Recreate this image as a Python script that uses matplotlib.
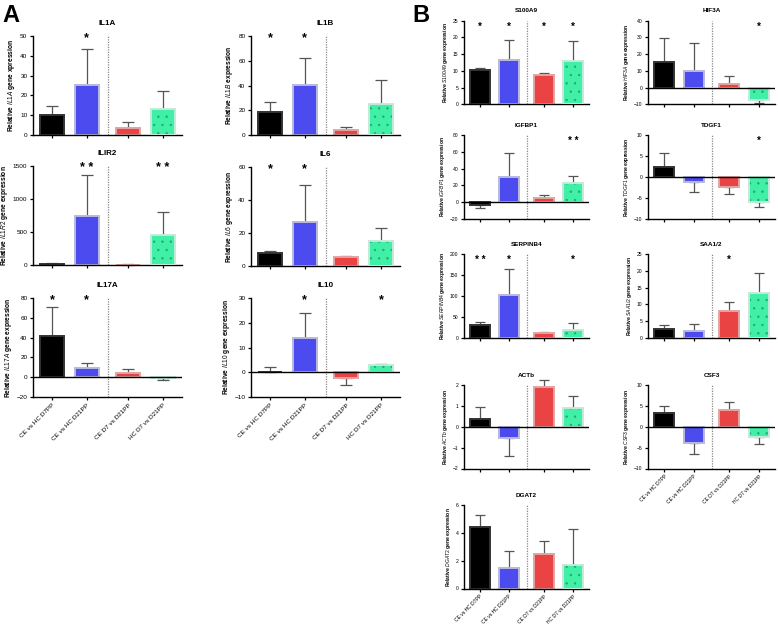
#!/usr/bin/env python3
"""Relative gene expression bar panels (A: cytokines, B: other genes)."""

import matplotlib
matplotlib.use('Agg')
import matplotlib.pyplot as plt

plt.rcParams['font.family'] = ['Liberation Sans', 'DejaVu Sans']
plt.rcParams['mathtext.fontset'] = 'custom'
plt.rcParams['mathtext.it'] = 'Liberation Sans:italic'
plt.rcParams['mathtext.rm'] = 'Liberation Sans'
plt.rcParams['hatch.linewidth'] = 0.5

GROUPS = ['CE vs HC D7PP', 'CE vs HC D21PP', 'CE D7 vs D21PP', 'HC D7 vs D21PP']

# means and error-bar lengths
IL1A_MEAN = [10, 25.3, 3.7, 13.1]
IL1A_SD = [4.5, 18, 3, 8.9]
IL1B_MEAN = [18.8, 40.4, 4.3, 25.3]
IL1B_SD = [7.6, 22.1, 2.2, 19.1]
IL1R2_MEAN = [20, 737, 5, 462]
IL1R2_SD = [8, 623, 4, 341]
IL6_MEAN = [7.6, 26.8, 5.2, 14.9]
IL6_SD = [1.7, 22, 0.6, 7.9]
IL17A_MEAN = [41.4, 9.7, 4, -1]
IL17A_SD = [29.5, 4.6, 4.3, 2]
IL10_MEAN = [0.3, 13.8, -2.4, 2.8]
IL10_SD = [1.7, 10.2, 2.9, 0.6]

S100A9_MEAN = [10.1, 13.2, 8.6, 13]
S100A9_SD = [0.8, 6.1, 0.8, 6]
HIF3A_MEAN = [15.4, 10, 2.2, -7.4]
HIF3A_SD = [14.1, 16.5, 4.8, 1.6]
IGFBP1_MEAN = [-3.6, 30.1, 5.1, 23]
IGFBP1_SD = [4, 28.2, 3.2, 8.7]
TDGF1_MEAN = [2.5, -1.2, -2.4, -5.9]
TDGF1_SD = [3.2, 2.3, 1.65, 1.2]
SERPINB4_MEAN = [31, 102.8, 11.2, 19.8]
SERPINB4_SD = [6.6, 62.8, 2.4, 15.2]
SAA12_MEAN = [2.6, 2, 8.1, 13.4]
SAA12_SD = [1.2, 2.2, 2.7, 5.9]
ACTB_MEAN = [0.35, -0.55, 1.9, 0.9]
ACTB_SD = [0.6, 0.85, 0.35, 0.55]
CSF3_MEAN = [3.3, -4, 4.1, -2.5]
CSF3_SD = [1.7, 2.5, 1.9, 1.7]
DGAT2_MEAN = [4.4, 1.5, 2.5, 1.66]
DGAT2_SD = [0.9, 1.2, 0.9, 2.64]

# significance marks above each bar
IL1A_SIG = ['', '*', '', '']
IL1B_SIG = ['*', '*', '', '']
IL1R2_SIG = ['', '* *', '', '* *']
IL6_SIG = ['*', '*', '', '']
IL17A_SIG = ['*', '*', '', '']
IL10_SIG = ['', '*', '', '*']
S100A9_SIG = ['*', '*', '*', '*']
HIF3A_SIG = ['', '', '', '*']
IGFBP1_SIG = ['', '', '', '* *']
TDGF1_SIG = ['', '', '', '*']
SERPINB4_SIG = ['* *', '*', '', '*']
SAA12_SIG = ['', '', '*', '']
NO_SIG = ['', '', '', '']

POS = [0, 1, 2.2, 3.2]
FACE = ['#000000', '#4b4bf0', '#ea4343', '#3ff0a6']
EDGE = ['#333333', '#b9b9dc', '#e2a4a4', '#c4e9da']

W, H = 778, 626


def ax_at(fig, left, top, width, height):
    return fig.add_axes([left / W, 1 - (top + height) / H, width / W, height / H])


def draw(ax, title, gene, mean, sd, ylim, yticks, sig, xlabels, big=True, ylabel_fmt='Relative $\\it{%s}$ gene expression'):
    fs_tick = 4.6 if big else 3.6
    fs_lab = 4.8 if big else 3.6
    fs_title = 5.8 if big else 4.6
    bw = 0.7 if big else 0.66
    for i, (m, s) in enumerate(zip(mean, sd)):
        if i == 3:
            ax.bar(POS[i], m, bw, color=FACE[i], hatch='..', edgecolor='#26a870', linewidth=0, zorder=2)
            ax.bar(POS[i], m, bw, fill=False, edgecolor=EDGE[i], linewidth=1.4, zorder=3)
        else:
            ax.bar(POS[i], m, bw, color=FACE[i], edgecolor=EDGE[i], linewidth=1.4, zorder=2)
        yerr = [[0], [s]] if m >= 0 else [[s], [0]]
        ax.errorbar(POS[i], m, yerr=yerr, fmt='none', ecolor='#555555', elinewidth=0.9,
                    capsize=4.5 if big else 3.5, capthick=0.9, zorder=1, clip_on=False)
        if sig[i]:
            ax.text(POS[i], ylim[1] - (ylim[1] - ylim[0]) * (0.02 if big else 0.07), sig[i],
                    ha='center', va='center', fontsize=9 if big else 7, fontweight='bold')
    ax.set_xlim(-0.55, 3.75)
    ax.set_ylim(*ylim)
    ax.set_yticks(yticks)
    ax.axvline(1.6, color='#888888', ls=(0, (1, 1)), lw=0.9, zorder=0)
    if ylim[0] < 0:
        ax.axhline(0, color='black', lw=1.0, zorder=4)
    for sp in ('top', 'right'):
        ax.spines[sp].set_visible(False)
    for sp in ('left', 'bottom'):
        ax.spines[sp].set_linewidth(1.0)
    ax.tick_params(axis='both', labelsize=fs_tick, length=2.5, width=0.9, pad=1.5)
    ax.set_xticks(POS)
    if xlabels:
        ax.set_xticklabels(GROUPS, rotation=45, ha='right', rotation_mode='anchor',
                           fontsize=fs_tick)
    else:
        ax.set_xticklabels([])
    ax.set_title(title, fontsize=fs_title, fontweight='bold', pad=8 if big else 6)
    ax.set_ylabel(ylabel_fmt % gene, fontsize=fs_lab, fontweight='bold', labelpad=2)


def main():
    fig = plt.figure(figsize=(W / 100, H / 100), dpi=100)

    # panel A
    aw, ah = 149, 99
    draw(ax_at(fig, 33, 36, aw, ah), 'IL1A', 'IL1A', IL1A_MEAN, IL1A_SD, (0, 50),
         range(0, 51, 10), IL1A_SIG, False, ylabel_fmt='Relative $\\it{%s}$ gene xpression')
    draw(ax_at(fig, 251, 36, aw, ah), 'IL1B', 'IL1B', IL1B_MEAN, IL1B_SD, (0, 80),
         range(0, 81, 20), IL1B_SIG, False, ylabel_fmt='Relative $\\it{%s}$ expression')
    draw(ax_at(fig, 33, 166, aw, ah), 'ILIR2', 'IL1R2', IL1R2_MEAN, IL1R2_SD, (0, 1500),
         range(0, 1501, 500), IL1R2_SIG, False)
    draw(ax_at(fig, 251, 167, aw, ah), 'IL6', 'IL6', IL6_MEAN, IL6_SD, (0, 60),
         range(0, 61, 20), IL6_SIG, False)
    draw(ax_at(fig, 33, 298, aw, ah), 'IL17A', 'IL17A', IL17A_MEAN, IL17A_SD, (-20, 80),
         range(-20, 81, 20), IL17A_SIG, True)
    draw(ax_at(fig, 251, 298, aw, ah), 'IL10', 'IL10', IL10_MEAN, IL10_SD, (-10, 30),
         range(-10, 31, 10), IL10_SIG, True)

    # panel B
    bw_l, bw_r, bh = 125, 127, 83.5
    xl, xr = 464, 648
    draw(ax_at(fig, xl, 20.7, bw_l, bh), 'S100A9', 'S100A9', S100A9_MEAN, S100A9_SD, (0, 25),
         range(0, 26, 5), S100A9_SIG, False, big=False)
    draw(ax_at(fig, xr, 20.7, bw_r, bh), 'HIF3A', 'HIF3A', HIF3A_MEAN, HIF3A_SD, (-10, 40),
         range(-10, 41, 10), HIF3A_SIG, False, big=False)
    draw(ax_at(fig, xl, 135.3, bw_l, bh), 'IGFBP1', 'IGFBP1', IGFBP1_MEAN, IGFBP1_SD, (-20, 80),
         range(-20, 81, 20), IGFBP1_SIG, False, big=False)
    draw(ax_at(fig, xr, 135.3, bw_r, bh), 'TDGF1', 'TDGF1', TDGF1_MEAN, TDGF1_SD, (-10, 10),
         range(-10, 11, 5), TDGF1_SIG, False, big=False)
    draw(ax_at(fig, xl, 254.3, bw_l, bh), 'SERPINB4', 'SERPINB4', SERPINB4_MEAN, SERPINB4_SD,
         (0, 200), range(0, 201, 50), SERPINB4_SIG, False, big=False)
    draw(ax_at(fig, xr, 254.3, bw_r, bh), 'SAA1/2', 'SAA1/2', SAA12_MEAN, SAA12_SD, (0, 25),
         range(0, 26, 5), SAA12_SIG, False, big=False)
    draw(ax_at(fig, xl, 385, bw_l, bh), 'ACTb', 'ACTb', ACTB_MEAN, ACTB_SD, (-2, 2),
         range(-2, 3, 1), NO_SIG, False, big=False)
    draw(ax_at(fig, xr, 385, bw_r, bh), 'CSF3', 'CSF3', CSF3_MEAN, CSF3_SD, (-10, 10),
         range(-10, 11, 5), NO_SIG, True, big=False)
    draw(ax_at(fig, xl, 505, bw_l, bh), 'DGAT2', 'DGAT2', DGAT2_MEAN, DGAT2_SD, (0, 6),
         range(0, 7, 2), NO_SIG, True, big=False)

    fig.text(2 / W, 1 - 16 / H, 'A', fontsize=17, fontweight='bold', va='center')
    fig.text(412 / W, 1 - 16 / H, 'B', fontsize=17, fontweight='bold', va='center')

    fig.savefig('out.png', dpi=100, facecolor='white')


if __name__ == '__main__':
    main()
